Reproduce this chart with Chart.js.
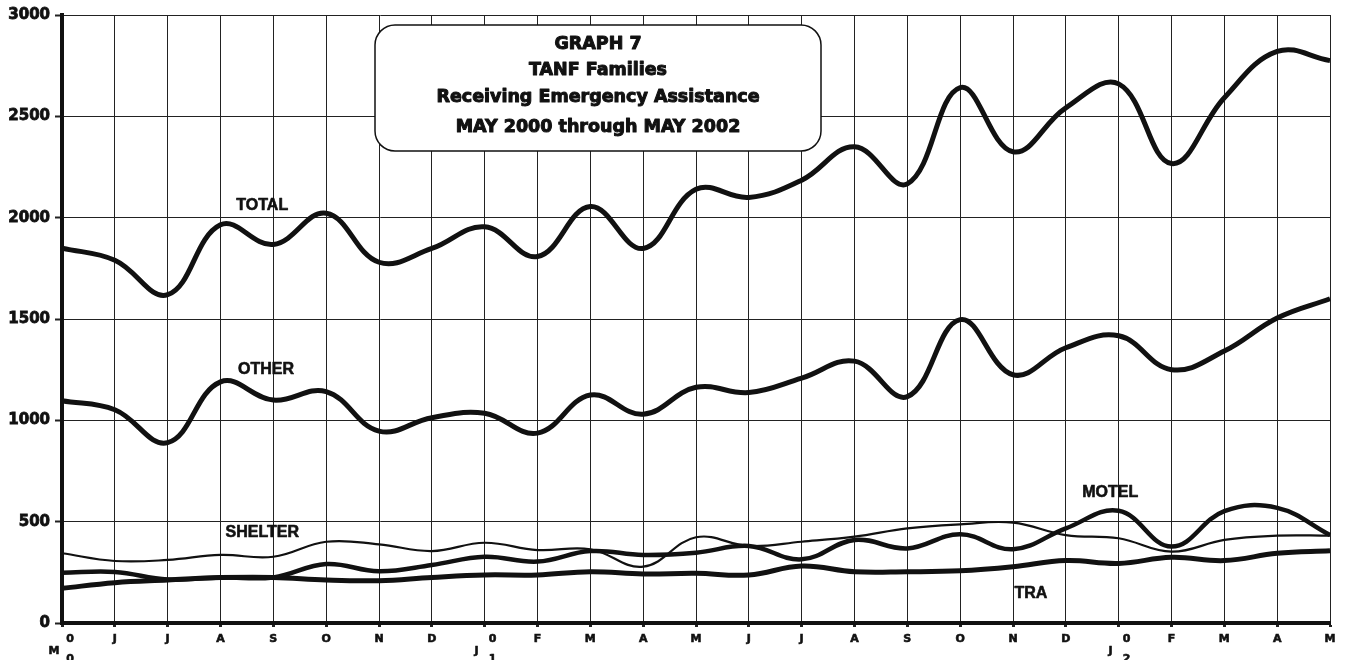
<!DOCTYPE html>
<html>
<head>
<meta charset="utf-8">
<title>GRAPH 7 - TANF Families Receiving Emergency Assistance</title>
<script src="https://cdn.jsdelivr.net/npm/chart.js@4.4.1/dist/chart.umd.min.js"></script>
<style>
  html, body { margin: 0; padding: 0; background: #fff; }
  #wrap { width: 1347px; height: 660px; }
</style>
</head>
<body>
<div id="wrap"><canvas id="graph7"></canvas></div>
<script>
// --- data (May 2000 .. May 2002)
const months = ["M","J","J","A","S","O","N","D","J","F","M","A","M","J","J","A","S","O","N","D","J","F","M","A","M"];
const yearMarks = { 0: "0", 8: "1", 20: "2" }; // first month of each year gets the stacked year digit

const total   = [1850, 1790, 1620, 1965, 1868, 2022, 1780, 1848, 1955, 1808, 2055, 1848, 2140, 2100, 2185, 2350, 2167, 2642, 2325, 2542, 2660, 2267, 2592, 2820, 2775];
const other   = [1097, 1052, 890, 1190, 1100, 1142, 947, 1013, 1035, 937, 1125, 1030, 1163, 1137, 1208, 1292, 1117, 1497, 1225, 1358, 1417, 1250, 1342, 1505, 1600];
const shelter = [344, 306, 311, 336, 327, 401, 388, 355, 396, 360, 364, 278, 423, 380, 401, 426, 467, 487, 495, 434, 418, 352, 410, 431, 431];
const motel   = [248, 252, 215, 225, 225, 291, 255, 286, 327, 303, 355, 336, 347, 380, 314, 410, 368, 438, 364, 467, 554, 377, 552, 568, 434];
const tra     = [171, 199, 212, 224, 225, 212, 209, 225, 237, 237, 253, 242, 245, 237, 281, 253, 253, 258, 278, 308, 294, 324, 308, 344, 357];

const yTicks = [0, 500, 1000, 1500, 2000, 2500, 3000];

// series names written on the plot, placed in data coordinates (month index, value)
const seriesNames = [
  { text: "TOTAL",   at: [3.79, 2062] },
  { text: "OTHER",   at: [3.86, 1248] },
  { text: "SHELTER", at: [3.79, 444] },
  { text: "MOTEL",   at: [19.84, 641] },
  { text: "TRA",     at: [18.34, 143] }
];

const titleLines = ["GRAPH 7", "TANF Families", "Receiving Emergency Assistance", "MAY 2000 through MAY 2002"];

document.addEventListener("DOMContentLoaded", () => {
  const heavy = "'DejaVu Sans', sans-serif";
  const arial = "'Liberation Sans', Arial, sans-serif";

  // fill + thin stroke so the text looks as heavy as the scanned original
  function boldText(ctx, t, x, y, sw) {
    ctx.lineWidth = sw;
    ctx.strokeText(t, x, y);
    ctx.fillText(t, x, y);
  }

  // --- title box, series names and the year digits under the x axis
  const decorations = {
    id: "decorations",
    afterDraw(chart) {
      const ctx = chart.ctx;
      const xs = chart.scales.x;
      const ys = chart.scales.y;
      ctx.save();

      // rounded title box
      const bx = 375, by = 25, bw = 446, bh = 126, r = 20;
      ctx.beginPath();
      ctx.roundRect(bx, by, bw, bh, r);
      ctx.fillStyle = "#fff";
      ctx.fill();
      ctx.lineWidth = 1.5;
      ctx.strokeStyle = "#111";
      ctx.stroke();

      ctx.fillStyle = "#111";
      ctx.textAlign = "center";
      ctx.textBaseline = "middle";
      ctx.lineJoin = "round";
      ctx.font = "bold 17.5px " + heavy;
      const lineY = [44, 70, 97, 127];
      titleLines.forEach((t, i) => boldText(ctx, t, bx + bw / 2, lineY[i], 1));

      // series names
      ctx.font = "bold 16px " + arial;
      seriesNames.forEach(s => {
        boldText(ctx, s.text, xs.getPixelForValue(s.at[0]), ys.getPixelForValue(s.at[1]), 0.6);
      });

      // year marks: "0" on the label row, month letter dropped to the left, year digit below
      ctx.font = "bold 11px " + heavy;
      Object.keys(yearMarks).forEach(k => {
        const i = Number(k);
        const px = xs.getPixelForValue(i);
        boldText(ctx, "0", px + 8, 639, 0.6);
        boldText(ctx, months[i], px - 8, 651, 0.6);
        boldText(ctx, yearMarks[k], px + 8, 659, 0.6);
      });

      ctx.restore();
    }
  };

  const line = (label, data, width) => ({
    label,
    data,
    borderColor: "#111",
    borderWidth: width,
    pointRadius: 0,
    tension: 0.4,
    fill: false
  });

  new Chart(document.getElementById("graph7"), {
    type: "line",
    data: {
      labels: months,
      datasets: [
        line("TOTAL", total, 5),
        line("OTHER", other, 5),
        line("SHELTER", shelter, 2.2),
        line("MOTEL", motel, 4.5),
        line("TRA", tra, 5)
      ]
    },
    options: {
      responsive: true,
      maintainAspectRatio: false,
      animation: false,
      layout: { padding: { top: 15, right: 17, left: 0, bottom: 0 } },
      plugins: {
        legend: { display: false },
        tooltip: { enabled: false },
        title: { display: false }
      },
      scales: {
        x: {
          type: "category",
          offset: false,
          afterFit: s => { s.height = 37; },
          grid: { color: "#222", lineWidth: 1, tickLength: 4, tickColor: "#222", tickWidth: 3 },
          border: { color: "#111", width: 4 },
          ticks: {
            autoSkip: false,
            maxRotation: 0,
            padding: 6,
            color: "#111",
            textStrokeColor: "#111",
            textStrokeWidth: 0.6,
            font: { family: heavy, size: 11, weight: "bold" },
            callback: (v, i) => (yearMarks[i] !== undefined ? "" : months[i])
          }
        },
        y: {
          min: 0,
          max: 3000,
          afterFit: s => { s.width = 62; },
          afterBuildTicks: s => { s.ticks = yTicks.map(v => ({ value: v })); },
          grid: { color: "#222", lineWidth: 1, tickLength: 7, tickColor: "#222", tickWidth: 2 },
          border: { color: "#111", width: 4 },
          ticks: {
            padding: 5,
            color: "#111",
            textStrokeColor: "#111",
            textStrokeWidth: 0.8,
            font: { family: heavy, size: 15, weight: "bold" },
            callback: v => String(v)
          }
        }
      }
    },
    plugins: [decorations]
  });
});
</script>
</body>
</html>
